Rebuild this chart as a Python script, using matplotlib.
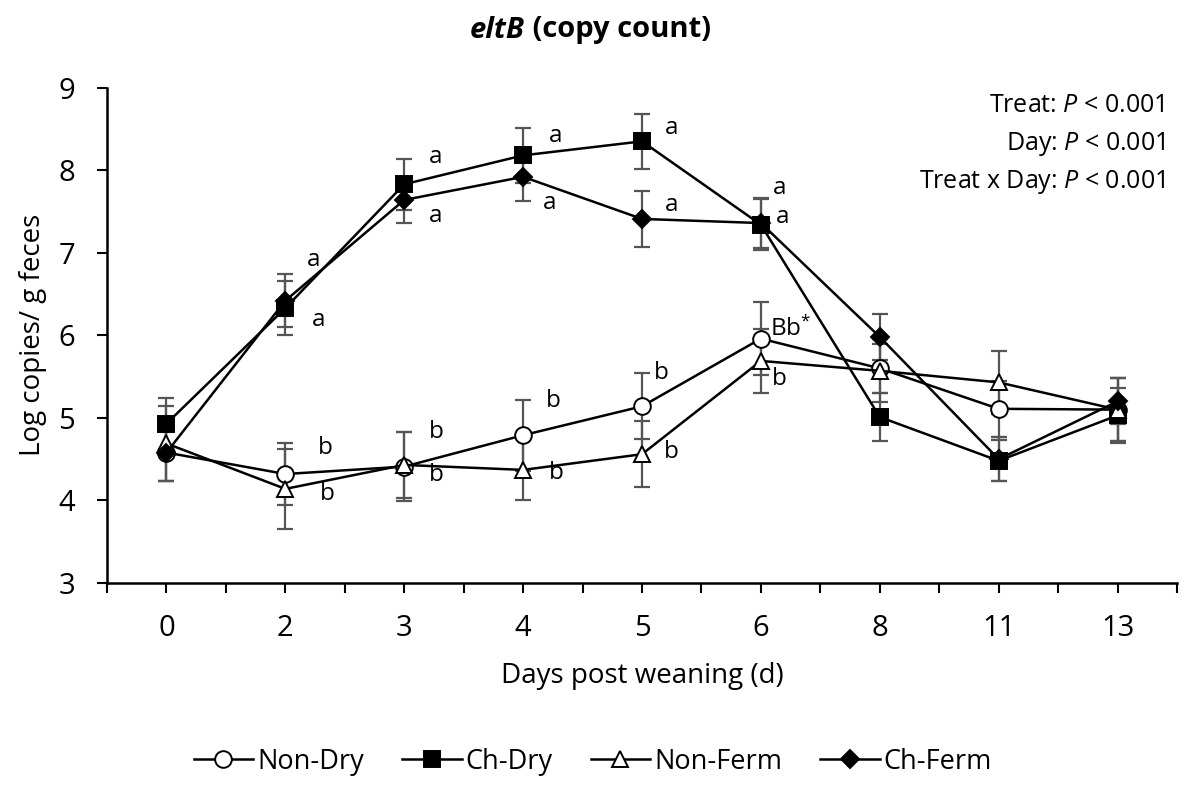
import numpy as np
import matplotlib
matplotlib.use("Agg")
import matplotlib.pyplot as plt

plt.rcParams['font.family'] = ['Open Sans', 'DejaVu Sans']
plt.rcParams['mathtext.fontset'] = 'custom'
plt.rcParams['mathtext.rm'] = 'Open Sans'
plt.rcParams['mathtext.it'] = 'Open Sans:italic'

# data
days = ['0', '2', '3', '4', '5', '6', '8', '11', '13']
non_dry = [4.58, 4.32, 4.41, 4.79, 5.14, 5.96, 5.60, 5.11, 5.10]
non_dry_se = [0.34, 0.38, 0.42, 0.43, 0.40, 0.44, 0.30, 0.34, 0.38]
ch_dry = [4.93, 6.33, 7.83, 8.18, 8.35, 7.34, 5.01, 4.48, 5.03]
ch_dry_se = [0.31, 0.33, 0.31, 0.33, 0.33, 0.31, 0.29, 0.25, 0.33]
non_ferm = [4.69, 4.14, 4.43, 4.37, 4.56, 5.69, 5.57, 5.43, 5.10]
non_ferm_se = [0.45, 0.48, 0.40, 0.37, 0.40, 0.39, 0.38, 0.38, 0.38]
ch_ferm = [4.58, 6.42, 7.64, 7.92, 7.41, 7.36, 5.98, 4.50, 5.20]
ch_ferm_se = [0.35, 0.32, 0.28, 0.29, 0.34, 0.30, 0.28, 0.27, 0.28]

# significance letters: (day index, y, label)
letters = [
    (1, 6.91, 'a'), (1, 6.18, 'a'),
    (2, 8.16, 'a'), (2, 7.44, 'a'),
    (3, 8.41, 'a'), (3, 7.60, 'a'),
    (4, 8.51, 'a'), (4, 7.58, 'a'),
    (5, 7.78, 'a'), (5, 7.43, 'a'),
    (5, 6.07, 'Bb$^{*}$'), (5, 5.47, 'b'),
    (4, 5.54, 'b'), (4, 4.59, 'b'),
    (1, 4.64, 'b'), (1, 4.08, 'b'),
    (2, 4.83, 'b'), (2, 4.31, 'b'),
    (3, 5.20, 'b'), (3, 4.33, 'b'),
]
letter_dx = [0.18, 0.22, 0.21, 0.21, 0.22, 0.17, 0.19, 0.19, 0.10, 0.13,
             0.08, 0.09, 0.10, 0.18, 0.27, 0.29, 0.21, 0.21, 0.19, 0.22]

stats_lines = ['Treat: $P$ < 0.001', 'Day: $P$ < 0.001', 'Treat x Day: $P$ < 0.001']

series = [
    ('Non-Dry', non_dry, non_dry_se, 'o', 'white', 12),
    ('Ch-Dry', ch_dry, ch_dry_se, 's', 'black', 11),
    ('Non-Ferm', non_ferm, non_ferm_se, '^', 'white', 12),
    ('Ch-Ferm', ch_ferm, ch_ferm_se, 'D', 'black', 9),
]

fig = plt.figure(figsize=(11.93, 7.92), dpi=100)
ax = fig.add_axes([0.0897, 0.2639, 0.8969, 0.6254])
x = np.arange(len(days))

for name, vals, se, mk, fc, ms in series:
    ax.errorbar(x, vals, yerr=se, fmt='none', ecolor='#555555', elinewidth=1.6,
                capsize=6, capthick=1.6, zorder=2)

for name, vals, se, mk, fc, ms in series:
    ax.plot(x, vals, color='black', lw=1.8, marker=mk, markersize=ms,
            markerfacecolor=fc, markeredgecolor='black', markeredgewidth=1.4,
            label=name, zorder=3)

for (i, yv, txt), dx in zip(letters, letter_dx):
    ax.text(i + dx, yv, txt, fontsize=17.5, ha='left', va='center')

ax.set_xlim(-0.5, len(days) - 0.5)
ax.set_ylim(3, 9)
ax.set_xticks(x)
ax.set_xticklabels(days)
ax.set_xticks(np.arange(-0.5, len(days), 1.0), minor=True)
ax.set_yticks(range(3, 10))
ax.tick_params(axis='both', which='both', direction='out', length=7, width=1.5,
               labelsize=21, color='black')
ax.tick_params(axis='x', pad=15)
ax.tick_params(axis='y', pad=16)
ax.spines['top'].set_visible(False)
ax.spines['right'].set_visible(False)
ax.spines['left'].set_linewidth(1.8)
ax.spines['bottom'].set_linewidth(1.8)

ax.set_xlabel('Days post weaning (d)', fontsize=20, labelpad=14)
ax.set_ylabel('Log copies/ g feces', fontsize=20, labelpad=8)

for k, line in enumerate(stats_lines):
    fig.text(1165 / 1193, 1 - (106 + 38 * k) / 792, line, fontsize=18,
             ha='right', va='center')

t1 = fig.text(470 / 1193, 1 - 30 / 792, 'eltB', fontsize=21, fontweight='bold',
              style='italic', ha='left', va='center')
ax.annotate(' (copy count)', xy=(1, 0), xycoords=t1, fontsize=21,
            fontweight='bold', ha='left', va='bottom', annotation_clip=False)

fig.legend(loc='lower center', bbox_to_anchor=(0.497, -0.01), ncol=4,
           frameon=False, fontsize=19.5, handlelength=2.2, handletextpad=0.15,
           columnspacing=1.4)

fig.savefig('out.png', dpi=100)
